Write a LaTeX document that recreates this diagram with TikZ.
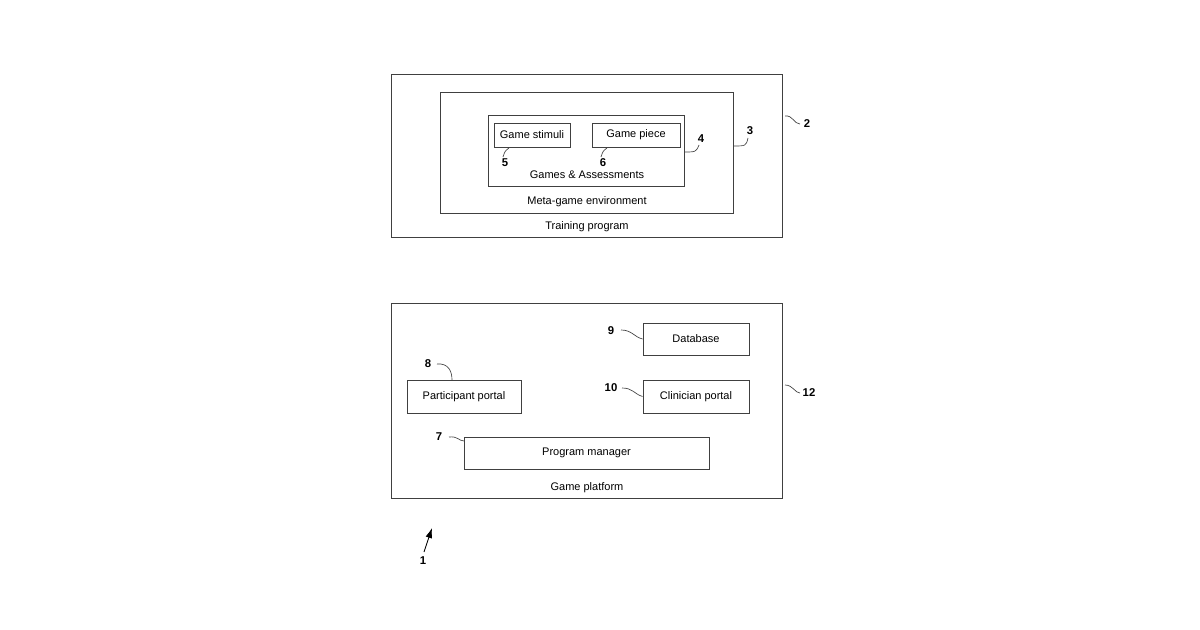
\documentclass[tikz,border=0pt]{standalone}
\usepackage{fontspec}
\setmainfont{Liberation Sans}
\usetikzlibrary{arrows.meta}
\begin{document}
\begin{tikzpicture}[x=0.6pt,y=-0.6pt,
  box/.style={draw=black!75,line width=0.5pt},
  txt/.style={font=\fontsize{6.6}{8}\selectfont,inner sep=0},
  num/.style={font=\fontsize{6.8}{8}\selectfont\bfseries,inner sep=0},
  lead/.style={draw=black!75,line width=0.4pt}]
\useasboundingbox (0,0) rectangle (1200,630);
\draw[box] (391,74) rectangle (782,237);
\draw[box] (440,92) rectangle (733,213);
\draw[box] (488,115) rectangle (684,186);
\node[box,minimum width=45.6pt,minimum height=14.4pt,inner sep=0,txt] (gs) at (532,135) {Game stimuli};
\node[box,minimum width=52.8pt,minimum height=14.4pt,inner sep=0,txt] (gp) at (636,135) {Game piece};
\node[txt] (t2) at (587,227) {Training program};
\node[txt] (t3) at (587,202) {Meta-game environment};
\node[txt] (t4) at (587,175) {Games \& Assessments};
\node[num] (n5) at (505,163) {5};
\node[num] (n6) at (603,163) {6};
\node[num] (n4) at (701,139) {4};
\node[num] (n3) at (750,131) {3};
\node[num] (n2) at (807,124) {2};
\draw[lead] (509,148) .. controls (505,151) .. (503,157);
\draw[lead] (607,148) .. controls (603,151) .. (601,157);
\draw[lead] (684,152) .. controls (696,152) .. (699,145);
\draw[lead] (733,146) .. controls (746,146) .. (748,138);
\draw[lead] (785,116) .. controls (793,115) and (794,124) .. (800,124);
\draw[box] (391,303) rectangle (782,498);
\node[txt] (t12) at (587,488) {Game platform};
\node[box,minimum width=63.6pt,minimum height=19.2pt,inner sep=0,txt] (db) at (696,339) {Database};
\node[box,minimum width=63.6pt,minimum height=19.8pt,inner sep=0,txt] (cp) at (696,396.5) {Clinician portal};
\node[box,minimum width=68.4pt,minimum height=19.8pt,inner sep=0,txt] (pp) at (464,396.5) {Participant portal};
\node[box,minimum width=147pt,minimum height=19.2pt,inner sep=0,txt] (pm) at (586.5,453) {Program manager};
\node[num] (n9) at (611,331) {9};
\node[num] (n10) at (611,388) {10};
\node[num] (n8) at (428,364) {8};
\node[num] (n7) at (439,437) {7};
\node[num] (n12) at (809,393) {12};
\draw[lead] (621,330) .. controls (632,330) and (634,337) .. (db.west);
\draw[lead] (622,388) .. controls (633,388) and (634,394) .. (cp.west);
\draw[lead] (437,364) .. controls (449,363) and (452,372) .. (452,380);
\draw[lead] (449,437) .. controls (458,436) and (459,441) .. (464,441);
\draw[lead] (785,385) .. controls (793,385) and (795,393) .. (800,393);
\coordinate (a1s) at (424,552);
\coordinate (a1e) at (432,528);
\draw[line width=0.5pt,-{Latex[length=6pt,width=4pt]}] (a1s) -- (a1e);
\node[num] (n1) at (423,561) {1};
\end{tikzpicture}
\end{document}
